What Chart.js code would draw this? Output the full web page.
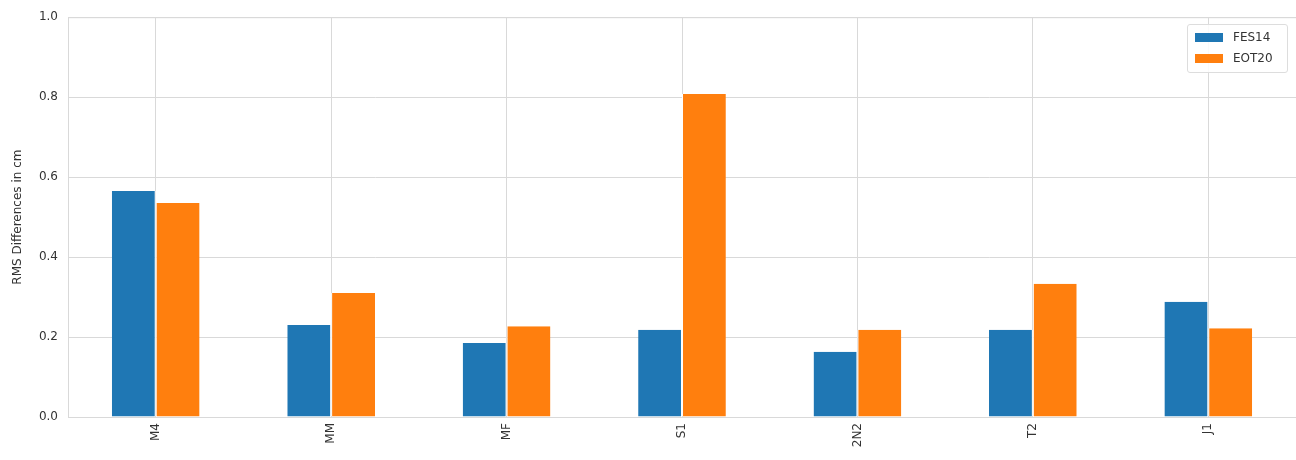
<!DOCTYPE html>
<html><head><meta charset="utf-8">
<script src="https://cdn.jsdelivr.net/npm/chart.js@4"></script>
<style>
body{margin:0;background:#fff;font-family:"DejaVu Sans",sans-serif}
#wrap{position:relative;width:1296px;height:460px;overflow:hidden}
#legend{position:absolute;left:1187px;top:24px;width:101px;height:49px;border:1px solid #ddd;border-radius:3px;background:rgba(255,255,255,0.85);font-size:12px;color:#333;box-sizing:border-box}
.it{position:absolute;left:7px;display:flex;align-items:center}
.sw{width:28px;height:9px;margin-right:10px}
</style></head><body>
<div id="wrap"><canvas id="c" width="1296" height="460"></canvas>
<div id="legend">
<div class="it" style="top:5px"><span class="sw" style="background:#1f77b4"></span>FES14</div>
<div class="it" style="top:26px"><span class="sw" style="background:#ff7f0e"></span>EOT20</div>
</div></div>
<script>
const categories=["M4","MM","MF","S1","2N2","T2","J1"];
const fes14=[0.565,0.23,0.185,0.218,0.163,0.218,0.288];
const eot20=[0.535,0.31,0.227,0.808,0.218,0.333,0.222];
const seriesNames=["FES14","EOT20"];
const gridC="#d9d9d9";
new Chart(document.getElementById('c'),{
type:'bar',
data:{labels:categories,datasets:[
{label:seriesNames[0],data:fes14,backgroundColor:'#1f77b4',borderColor:'#fff',borderWidth:{left:0,right:1,top:0,bottom:0},borderSkipped:false},
{label:seriesNames[1],data:eot20,backgroundColor:'#ff7f0e',borderColor:'#fff',borderWidth:{left:1,right:0,top:0,bottom:0},borderSkipped:false}]},
options:{responsive:false,animation:false,
layout:{padding:{top:17,right:0,left:7,bottom:0}},
plugins:{legend:{display:false},tooltip:{enabled:false}},
datasets:{bar:{categoryPercentage:0.5,barPercentage:1}},
scales:{
x:{grid:{color:gridC,offset:false,drawTicks:false},border:{color:gridC},
ticks:{color:'#333',font:{size:12,family:'DejaVu Sans'},maxRotation:90,minRotation:90,padding:6},
afterFit(s){s.height=43;}},
y:{min:0,max:1,grid:{color:gridC,drawTicks:false},border:{color:gridC},
ticks:{stepSize:0.2,color:'#333',font:{size:12,family:'DejaVu Sans'},padding:10,callback:v=>v.toFixed(1)},
title:{display:true,text:'RMS Differences in cm',color:'#333',font:{size:12,family:'DejaVu Sans'},padding:{bottom:4}},
afterFit(s){s.width=61;}}
}},
plugins:[{id:'box',afterDraw(ch){const a=ch.chartArea,c=ch.ctx;c.save();c.strokeStyle=gridC;c.lineWidth=1;c.strokeRect(a.left+0.5,a.top+0.5,a.right-a.left+5,a.bottom-a.top);c.restore();}}]
});
</script></body></html>
